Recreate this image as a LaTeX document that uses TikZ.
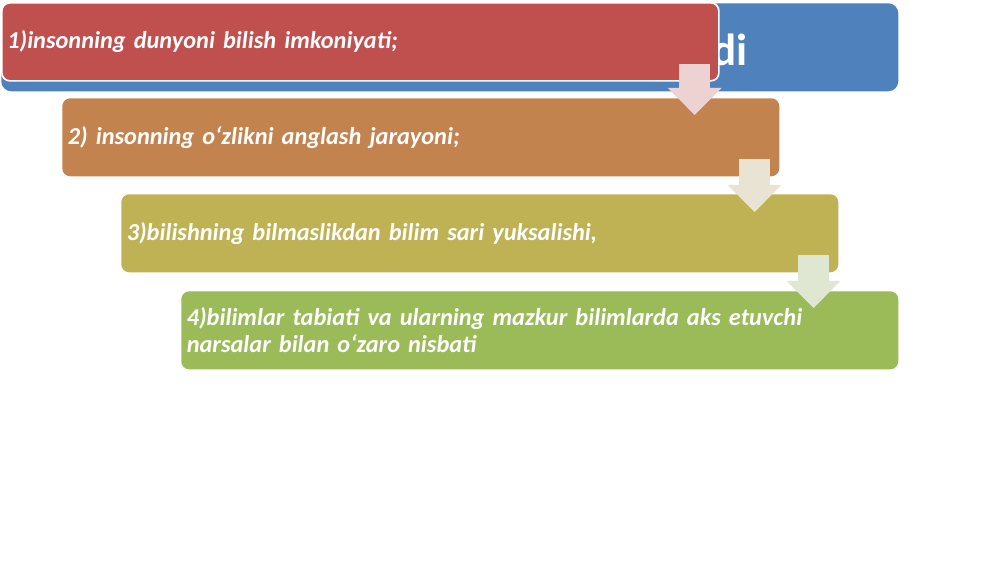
\documentclass[tikz,border=0pt]{standalone}
\usepackage{fontspec}
\setmainfont{Carlito}
\usetikzlibrary{arrows.meta,calc}

\definecolor{titleblue}{HTML}{4F81BD}
\definecolor{stepred}{HTML}{C0504D}
\definecolor{steporange}{HTML}{C3834F}
\definecolor{stepolive}{HTML}{BFB255}
\definecolor{stepgreen}{HTML}{9BBB59}
\definecolor{arrowpink}{HTML}{ECD3D2}
\definecolor{arrowsand}{HTML}{E9E3D3}
\definecolor{arrowmint}{HTML}{DFE7D3}

\tikzstyle{titlebox} = [rectangle, rounded corners=0.25cm, anchor=north west, fill=titleblue, minimum width=22.425cm, minimum height=2.2cm]
\tikzstyle{stepbox} = [rectangle, rounded corners=0.2cm, anchor=north west, minimum width=17.925cm, minimum height=1.95cm,
			text width=17.65cm, inner xsep=0.12cm, align=left, text=white,
			font=\fontsize{17.3}{19.5}\selectfont\bfseries\itshape]
\tikzstyle{flow} = [line width=0.78cm, -{Triangle[width=1.35cm,length=0.68cm,line width=0pt]}]

\begin{document}
\begin{tikzpicture}
\useasboundingbox (0,0) rectangle (25,-14.05);
\node [titlebox] (title) at (0.025,-0.075) {};
\node [anchor=base east, inner sep=0pt, text=white, font=\fontsize{32}{38}\selectfont\bfseries] (titletext) at (18.7,-1.625) {di};
\node [stepbox, fill=stepred, draw=white, line width=1.2pt] (red) at (0.025,-0.05) {1)insonning dunyoni bilish imkoniyati;};
\node [stepbox, fill=steporange] (orange) at (1.55,-2.45) {2) insonning oʻzlikni anglash jarayoni;};
\node [stepbox, fill=stepolive] (olive) at (3.025,-4.85) {3)bilishning bilmaslikdan bilim sari yuksalishi,};
\node [stepbox, fill=stepgreen] (green) at (4.525,-7.275) {4)bilimlar tabiati va ularning mazkur bilimlarda aks etuvchi\\
						narsalar bilan oʻzaro nisbati};

\coordinate (a1) at ($(red.south east)+(-0.625,0.45)$);
\coordinate (a2) at ($(orange.south east)+(-0.625,0.45)$);
\coordinate (a3) at ($(olive.south east)+(-0.625,0.45)$);
\draw [flow, arrowpink, shorten >=-0.425cm] (a1) -- (a1 |- orange.north);
\draw [flow, arrowsand, shorten >=-0.45cm] (a2) -- (a2 |- olive.north);
\draw [flow, arrowmint, shorten >=-0.425cm] (a3) -- (a3 |- green.north);
\end{tikzpicture}
\end{document}
